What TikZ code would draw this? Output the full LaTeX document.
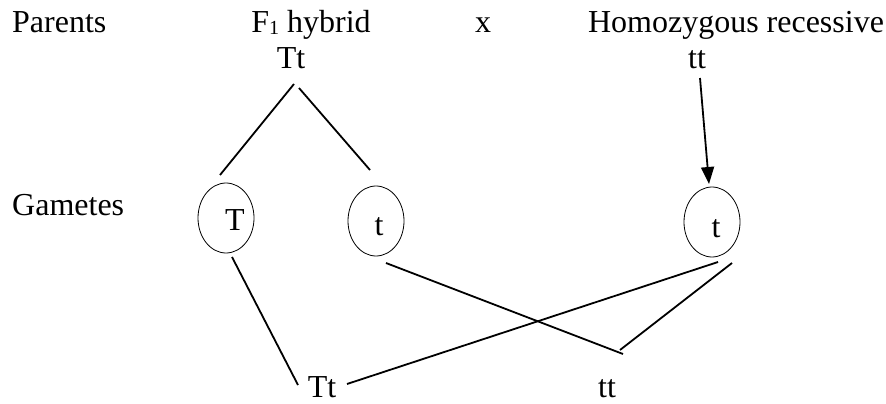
\documentclass[tikz,border=0pt]{standalone}
\usepackage{fontspec}
\setmainfont{Liberation Serif}
\usetikzlibrary{shapes.geometric,arrows.meta,calc}
\begin{document}
\begin{tikzpicture}[x=1pt,y=-1pt,
  txt/.style={inner sep=0pt,anchor=base,font=\fontsize{32}{32}\selectfont},
  gam/.style={draw,ellipse,line width=0.8pt,minimum width=56pt,minimum height=70pt,inner sep=0pt},
  ln/.style={line width=1.8pt}]
\useasboundingbox (0,0) rectangle (886,404);
% headings
\node[txt,anchor=base west] (parents) at (12,33) {Parents};
\node[txt] (f1) at (311,33) {F\raisebox{-2pt}{\fontsize{20}{20}\selectfont 1} hybrid};
\node[txt] (cross) at (483,33) {x};
\node[txt] (homo) at (736,33) {Homozygous recessive};
\node[txt] (tt1) at (291,68) {Tt};
\node[txt] (tt2) at (697,68) {tt};
\node[txt,anchor=base west] (gametes) at (12,215) {Gametes};
% gametes
\node[gam] (cT) at (226,218) {};
\node[gam] (ct1) at (376,221) {};
\node[gam] (ct2) at (712,222) {};
\node[txt] (lT) at (235,230) {T};
\node[txt] (lt1) at (379,235) {t};
\node[txt] (lt2) at (716,237) {t};
% offspring
\node[txt] (off1) at (322,397) {Tt};
\node[txt] (off2) at (607,397) {tt};
\coordinate (j1) at (623,354);
\coordinate (j2) at (620,350);
% connectors
\draw[ln] ($(tt1.base)+(3,16)$) -- ($(cT)+(-6,-43)$);
\draw[ln] ($(tt1.base)+(8,20)$) -- ($(ct1)+(-6,-51)$);
\draw[ln,-{Triangle[length=17pt,width=13pt]}] ($(tt2.base)+(3,10)$) -- ($(ct2)+(-3,-38)$);
\draw[ln] ($(cT)+(6,39)$) -- ($(off1.base)+(-24,-12)$);
\draw[ln] ($(off1.base)+(25,-13)$) -- ($(ct2)+(6,40)$);
\draw[ln] ($(ct1)+(10,42)$) -- (j1);
\draw[ln] (j2) -- ($(ct2)+(20,41)$);
\end{tikzpicture}
\end{document}
